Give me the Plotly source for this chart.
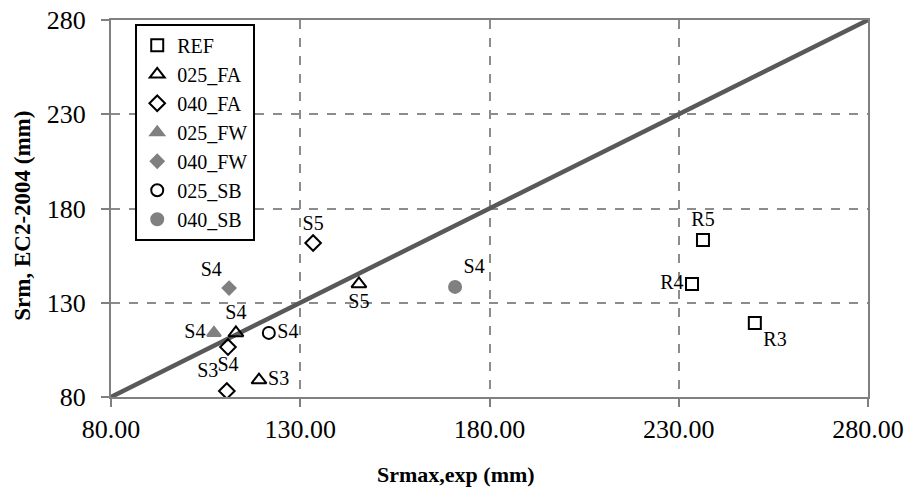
import plotly.graph_objects as go

# Data
ref_x = [236.4, 233.5, 250.1]
ref_y = [163.3, 140.0, 119.3]
ref_lbl = ["R5", "R4", "R3"]
ref_pos = ["top center", "middle left", "bottom right"]

fa025_x = [145.5, 113.0, 119.1]
fa025_y = [140.0, 114.0, 89.0]
fa025_lbl = ["S5", "S4", "S3"]
fa025_pos = ["bottom center", "top center", "middle right"]

fa040_x = [133.4, 110.9, 110.6]
fa040_y = [161.7, 106.5, 83.2]
fa040_lbl = ["S5", "S4", "S3"]
fa040_pos = ["top center", "bottom center", "top left"]

fw025_x = [107.2]
fw025_y = [114.0]
fw025_lbl = ["S4"]
fw025_pos = ["middle left"]

fw040_x = [111.2]
fw040_y = [137.8]
fw040_lbl = ["S4"]
fw040_pos = ["top left"]

sb025_x = [121.7]
sb025_y = [114.0]
sb025_lbl = ["S4"]
sb025_pos = ["middle right"]

sb040_x = [170.9]
sb040_y = [138.4]
sb040_lbl = ["S4"]
sb040_pos = ["top right"]

line_x = [80, 280]
line_y = [80, 280]

tick_vals = [80, 130, 180, 230, 280]
x_tick_text = ["80.00", "130.00", "180.00", "230.00", "280.00"]
x_title = "Srmax,exp (mm)"
y_title = "Srm, EC2-2004 (mm)"

FONT = "Liberation Serif"
fig = go.Figure()

fig.add_trace(go.Scatter(x=line_x, y=line_y, mode="lines",
                         line=dict(color="#595959", width=4.5), showlegend=False,
                         hoverinfo="skip"))

series = [
    ("REF", ref_x, ref_y, ref_lbl, ref_pos, "square-open", "black", 12),
    ("025_FA", fa025_x, fa025_y, fa025_lbl, fa025_pos, "triangle-up-open", "black", 13),
    ("040_FA", fa040_x, fa040_y, fa040_lbl, fa040_pos, "diamond-open", "black", 12),
    ("025_FW", fw025_x, fw025_y, fw025_lbl, fw025_pos, "triangle-up", "#808080", 12),
    ("040_FW", fw040_x, fw040_y, fw040_lbl, fw040_pos, "diamond", "#808080", 10),
    ("025_SB", sb025_x, sb025_y, sb025_lbl, sb025_pos, "circle-open", "black", 12),
    ("040_SB", sb040_x, sb040_y, sb040_lbl, sb040_pos, "circle", "#808080", 12),
]
for name, xs, ys, lbl, pos, sym, col, sz in series:
    fig.add_trace(go.Scatter(
        x=xs, y=ys, mode="markers+text", name=name,
        text=lbl, textposition=pos,
        textfont=dict(family=FONT, size=20, color="black"),
        marker=dict(symbol=sym, size=sz, color=col, line=dict(color=col, width=2)),
    ))

axis_common = dict(
    showline=True, linecolor="#808080", linewidth=2, mirror=True,
    showgrid=True, gridcolor="#8c8c8c", griddash="dash", gridwidth=1.5,
    ticks="outside", tickcolor="#808080", ticklen=8, tickwidth=1.5,
    zeroline=False, range=[80, 280], tickvals=tick_vals, automargin=False,
    tickfont=dict(family=FONT, size=26, color="black"),
)

fig.update_layout(
    width=912, height=494,
    margin=dict(l=111, r=44, t=20, b=97, autoexpand=False),
    plot_bgcolor="white", paper_bgcolor="white",
    font=dict(family=FONT, color="black"),
    xaxis=dict(ticktext=x_tick_text, ticklabelstandoff=0, **axis_common),
    yaxis=dict(ticklabelstandoff=10, **axis_common),
    legend=dict(x=0.032, y=0.99, xanchor="left", yanchor="top",
                bordercolor="black", borderwidth=2, bgcolor="white",
                font=dict(family=FONT, size=20), itemwidth=30,
                tracegroupgap=0),
    showlegend=True,
    annotations=[
        dict(text="<b>" + x_title + "</b>", xref="paper", yref="paper",
             x=0.4558, y=-0.205, xanchor="center", yanchor="middle",
             showarrow=False, font=dict(family=FONT, size=22, color="black")),
        dict(text="<b>" + y_title + "</b>", xref="paper", yref="paper",
             x=-0.118, y=0.48, xanchor="center", yanchor="middle", textangle=-90,
             showarrow=False, font=dict(family=FONT, size=23, color="black")),
    ],
)

fig.write_html("out.html")
